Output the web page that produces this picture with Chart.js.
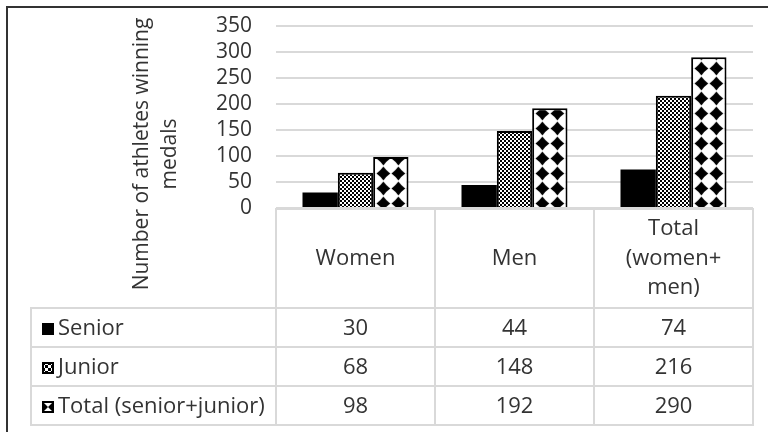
<!DOCTYPE html>
<html>
<head>
<meta charset="utf-8">
<script src="https://cdn.jsdelivr.net/npm/chart.js@4/dist/chart.umd.min.js"></script>
<style>
  html, body { margin: 0; padding: 0; background: #fff; }
  #wrap { width: 768px; height: 432px; position: relative; }
</style>
</head>
<body>
<div id="wrap"><canvas id="c" width="768" height="432"></canvas></div>
<script>
// Categories (header cells of the data table), series and values
const categories = [['Women'], ['Men'], ['Total', '(women+', 'men)']];
const seriesNames = ['Senior', 'Junior', 'Total (senior+junior)'];
const senior = [30, 44, 74];
const junior = [68, 148, 216];
const total = [98, 192, 290];
const yTicks = [0, 50, 100, 150, 200, 250, 300, 350];
const axisTitle = ['Number of athletes winning', 'medals'];

const FONT = '"Open Sans", "Noto Sans", sans-serif';
const TEXT = '#333333';
const LINE = '#d9d9d9';
const PLOT_TOP = 26;

// Fill patterns
function checkerTile(cell) {
  const c = document.createElement('canvas');
  c.width = c.height = cell * 2;
  const g = c.getContext('2d');
  g.fillStyle = '#fff'; g.fillRect(0, 0, c.width, c.height);
  g.fillStyle = '#000';
  g.fillRect(0, 0, cell, cell);
  g.fillRect(cell, cell, cell, cell);
  return c;
}
function diamondTile() {
  const s = 15, m = 7.5, r = 6.9;
  const c = document.createElement('canvas');
  c.width = c.height = s;
  const g = c.getContext('2d');
  g.fillStyle = '#fff'; g.fillRect(0, 0, s, s);
  g.fillStyle = '#000';
  g.beginPath();
  g.moveTo(m, m - r);
  g.quadraticCurveTo(m + 2.9, m - 2.9, m + r, m);
  g.quadraticCurveTo(m + 2.9, m + 2.9, m, m + r);
  g.quadraticCurveTo(m - 2.9, m + 2.9, m - r, m);
  g.quadraticCurveTo(m - 2.9, m - 2.9, m, m - r);
  g.closePath();
  g.fill();
  return c;
}
const ctx = document.getElementById('c').getContext('2d');
const checkerPattern = ctx.createPattern(checkerTile(2), 'repeat');
const diamondCanvas = diamondTile();
// one pattern per bar so each bar's diamonds can be aligned to the bar itself
const totalPatterns = total.map(() => ctx.createPattern(diamondCanvas, 'repeat'));

const alignPatterns = {
  id: 'alignPatterns',
  beforeDatasetsDraw(chart) {
    const meta = chart.getDatasetMeta(2);
    const bottom = chart.chartArea.bottom;
    meta.data.forEach((bar, i) => {
      totalPatterns[i].setTransform(new DOMMatrix([1, 0, 0, 1, bar.x - 15, bottom - 12]));
    });
  }
};

function legendKey(g, kind, x, y, s) {
  g.save();
  if (kind === 0) {
    g.fillStyle = '#000';
    g.fillRect(x, y, s, s);
  } else if (kind === 1) {
    g.fillStyle = '#fff';
    g.fillRect(x, y, s, s);
    g.fillStyle = '#000';
    const c = 3;
    for (let i = 0; i * c < s; i++) {
      for (let j = 0; j * c < s; j++) {
        if ((i + j) % 2 === 0) g.fillRect(x + i * c, y + j * c, Math.min(c, s - i * c), Math.min(c, s - j * c));
      }
    }
    g.strokeStyle = '#000'; g.lineWidth = 2;
    g.strokeRect(x + 1, y + 1, s - 2, s - 2);
  } else {
    g.fillStyle = '#fff';
    g.fillRect(x, y, s, s);
    g.fillStyle = '#000';
    g.beginPath();
    g.moveTo(x, y); g.lineTo(x + s / 2, y + s / 2); g.lineTo(x, y + s); g.closePath();
    g.moveTo(x + s, y); g.lineTo(x + s / 2, y + s / 2); g.lineTo(x + s, y + s); g.closePath();
    g.fill();
    g.strokeStyle = '#000'; g.lineWidth = 2;
    g.strokeRect(x + 1, y + 1, s - 2, s - 2);
  }
  g.restore();
}

// Frame, rotated axis title and the data table below the plot
const tableAndFrame = {
  id: 'tableAndFrame',
  afterDraw(chart) {
    const g = chart.ctx;
    const { left, right, bottom } = chart.chartArea;
    const n = categories.length;
    const colW = (right - left) / n;
    const headTop = bottom + 1;
    const headBottom = headTop + 99;
    const rowH = 39;
    const tableLeft = 31;
    const rows = [senior, junior, total];

    g.save();
    // outer frame
    g.fillStyle = '#333';
    g.fillRect(6, 6, 762, 2);
    g.fillRect(6, 6, 2, 426);

    // grid of the table
    g.strokeStyle = LINE;
    g.lineWidth = 2;
    for (let i = 0; i < n; i++) {
      g.strokeRect(Math.round(left + i * colW), headTop, Math.round(colW), headBottom - headTop);
    }
    rows.forEach((vals, r) => {
      const y0 = headBottom + r * rowH;
      g.strokeRect(tableLeft, y0, Math.round(left) - tableLeft, rowH);
      for (let i = 0; i < n; i++) {
        g.strokeRect(Math.round(left + i * colW), y0, Math.round(colW), rowH);
      }
    });

    g.fillStyle = TEXT;
    g.font = '22px ' + FONT;
    g.textBaseline = 'middle';
    g.textAlign = 'center';
    // category header cells
    const lh = 29.5;
    categories.forEach((lines, i) => {
      const cx = chart.scales.x.getPixelForValue(i);
      const cy = (headTop + headBottom) / 2;
      lines.forEach((t, k) => {
        g.fillText(t, cx, cy + (k - (lines.length - 1) / 2) * lh);
      });
    });
    // value rows
    rows.forEach((vals, r) => {
      const cy = headBottom + r * rowH + rowH / 2 + 1;
      vals.forEach((v, i) => {
        g.fillText(String(v), chart.scales.x.getPixelForValue(i), cy);
      });
      legendKey(g, r, 42, Math.round(cy - 6), 12);
      g.textAlign = 'left';
      g.fillText(seriesNames[r], 58, cy);
      g.textAlign = 'center';
    });

    // vertical axis title
    g.font = '21px ' + FONT;
    g.textBaseline = 'alphabetic';
    const ty = 154;
    [148, 176].forEach((bx, k) => {
      g.save();
      g.translate(bx, ty);
      g.rotate(-Math.PI / 2);
      g.fillText(axisTitle[k], 0, 0);
      g.restore();
    });
    g.restore();
  }
};

new Chart(ctx, {
  type: 'bar',
  data: {
    labels: categories.map(l => l.join(' ')),
    datasets: [
      { label: seriesNames[0], data: senior, backgroundColor: '#000', borderWidth: 0 },
      { label: seriesNames[1], data: junior, backgroundColor: checkerPattern, borderColor: '#000', borderWidth: 2 },
      { label: seriesNames[2], data: total, backgroundColor: c => totalPatterns[c.dataIndex || 0], borderColor: '#000', borderWidth: 2 }
    ]
  },
  options: {
    responsive: false,
    animation: false,
    devicePixelRatio: 1,
    layout: { padding: { left: 0, top: PLOT_TOP, right: 15, bottom: 224 } },
    datasets: { bar: { categoryPercentage: 2 / 3, barPercentage: 1 } },
    plugins: { legend: { display: false }, tooltip: { enabled: false }, title: { display: false } },
    scales: {
      x: { display: false },
      y: {
        min: yTicks[0],
        max: yTicks[yTicks.length - 1],
        afterBuildTicks(scale) { scale.ticks = yTicks.map(v => ({ value: v })); },
        afterFit(scale) { scale.width = 276; scale.paddingTop = 0; scale.paddingBottom = 0; },
        border: { display: false },
        grid: { color: LINE, lineWidth: 2, drawTicks: false },
        ticks: { color: TEXT, padding: 24, autoSkip: false, font: { family: FONT, size: 21, lineHeight: 1 } }
      }
    }
  },
  plugins: [alignPatterns, tableAndFrame]
});
</script>
</body>
</html>
